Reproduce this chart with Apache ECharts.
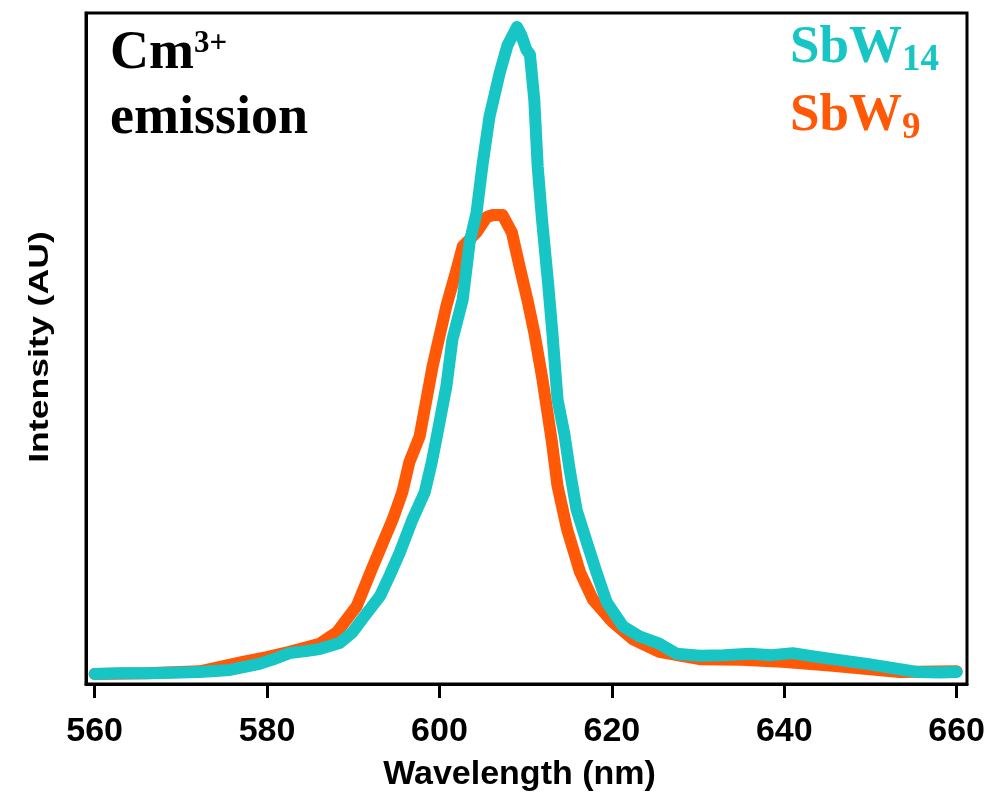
<!DOCTYPE html>
<html>
<head>
<meta charset="utf-8">
<script src="https://cdn.jsdelivr.net/npm/echarts@6/dist/echarts.min.js"></script>
<style>html,body{margin:0;padding:0;background:#fff;}#c{width:992px;height:797px;}</style>
</head>
<body>
<div id="c"></div>
<script>
// SbW14 (cyan) — wavelength (nm) and intensity (AU, 0–100 of plot height)
const sbw14Wl  = [560.0,563.0,566.4,570.0,572.2,575.7,579.1,581.0,582.6,584.5,586.1,588.4,589.9,591.3,593.1,594.2,595.4,596.9,598.3,599.1,599.7,600.8,601.5,602.7,603.5,604.3,605.0,605.8,607.0,607.9,609.0,609.5,610.1,610.5,611.0,611.4,611.9,612.6,613.1,613.7,614.5,615.1,615.9,617.1,618.2,619.4,621.3,623.2,625.5,627.5,630.2,633.0,636.0,638.5,641.0,643.0,645.6,649.6,653.4,655.4,658.0,660.0];
const sbw14Int = [1.5,1.6,1.6,1.7,1.8,2.1,3.0,3.8,4.6,4.9,5.2,6.1,7.7,10.1,13.1,16.1,19.6,24.6,28.6,33.0,36.9,44.3,51.3,57.3,65.8,70.2,77.4,84.5,91.1,95.2,97.9,96.7,94.5,93.8,87.1,77.1,69.2,59.8,52.4,42.4,37.2,32.0,26.0,21.1,16.7,12.2,8.6,7.1,6.0,4.5,4.2,4.3,4.5,4.3,4.6,4.2,3.7,3.0,2.2,1.8,1.7,1.8];
// SbW9 (orange)
const sbw9Wl  = [560.0,566.0,572.2,577.2,580.0,582.6,586.1,588.1,590.4,592.3,594.6,595.7,596.5,597.7,599.2,600.8,602.0,602.7,604.3,605.5,606.2,607.3,608.4,609.3,610.2,611.0,611.9,612.6,613.0,613.7,614.8,616.3,617.8,620.1,622.4,625.5,630.2,635.0,639.8,645.6,653.4,660.0];
const sbw9Int = [1.5,1.6,1.9,3.3,4.0,4.8,6.0,7.7,11.6,17.6,24.6,28.6,33.0,36.9,47.3,56.3,61.8,65.2,67.3,69.6,69.9,69.9,67.3,62.2,57.3,52.4,45.8,39.9,36.5,29.5,23.1,16.7,12.6,9.2,6.7,4.8,3.7,3.6,3.3,2.7,1.8,1.9];
const xTicks = [560,580,600,620,640,660];

const zip = (a,b) => a.map((v,i)=>[v,b[i]]);
const CYAN = '#17c5c5', ORANGE = '#ff5806';
const SANS = '"Liberation Sans", Arial, Helvetica, sans-serif';
const SERIF = '"Liberation Serif", "Times New Roman", serif';

const chart = echarts.init(document.getElementById('c'), null, {renderer:'canvas'});
chart.setOption({
  animation:false,
  backgroundColor:'#fff',
  grid:{left:86,right:25,top:13,bottom:112,show:true,borderColor:'#000',borderWidth:3,backgroundColor:'transparent'},
  xAxis:{
    type:'value',min:559,max:661.2,
    name:'Wavelength (nm)',nameLocation:'middle',nameGap:74,
    nameTextStyle:{fontFamily:SANS,fontWeight:'bold',fontSize:34,color:'#000',padding:[0,14,0,0]},
    axisLine:{show:true,lineStyle:{color:'#000',width:3}},
    axisTick:{show:true,inside:false,length:14,lineStyle:{color:'#000',width:3},customValues:xTicks},
    axisLabel:{show:true,margin:31,fontFamily:SANS,fontWeight:'bold',fontSize:34,color:'#000',customValues:xTicks},
    splitLine:{show:false}
  },
  yAxis:{
    type:'value',min:0,max:100,
    axisLine:{show:true,lineStyle:{color:'#000',width:3}},
    axisTick:{show:false},axisLabel:{show:false},splitLine:{show:false}
  },
  graphic:[
    {type:'text',left:110,top:24,style:{
      text:'{a|Cm}{s|3+}',
      rich:{a:{fontFamily:SERIF,fontWeight:'bold',fontSize:54,fill:'#000',lineHeight:60},
            s:{fontFamily:SERIF,fontWeight:'bold',fontSize:31,fill:'#000',verticalAlign:'top',lineHeight:60,padding:[4,0,0,0]}}}},
    {type:'text',left:110,top:92,style:{text:'emission',fontFamily:SERIF,fontWeight:'bold',fontSize:54,fill:'#000'}},
    {type:'text',left:790,top:22,style:{
      text:'{a|SbW}{s|14}',
      rich:{a:{fontFamily:SERIF,fontWeight:'bold',fontSize:53,fill:CYAN,lineHeight:60},
            s:{fontFamily:SERIF,fontWeight:'bold',fontSize:37,fill:CYAN,verticalAlign:'bottom',lineHeight:60}}}},
    {type:'text',left:790,top:90,style:{
      text:'{a|SbW}{s|9}',
      rich:{a:{fontFamily:SERIF,fontWeight:'bold',fontSize:53,fill:ORANGE,lineHeight:60},
            s:{fontFamily:SERIF,fontWeight:'bold',fontSize:37,fill:ORANGE,verticalAlign:'bottom',lineHeight:60}}}},
    {type:'text',x:54,y:347,rotation:Math.PI/2,scaleX:1.32,scaleY:1,
      style:{text:'Intensity (AU)',fontFamily:SANS,fontWeight:'bold',fontSize:27,fill:'#000',align:'center',verticalAlign:'bottom'}}
  ],
  series:[
    {name:'SbW9',type:'line',data:zip(sbw9Wl,sbw9Int),showSymbol:false,smooth:false,
     lineStyle:{color:ORANGE,width:12,cap:'round',join:'round'},z:2},
    {name:'SbW14',type:'line',data:zip(sbw14Wl,sbw14Int),showSymbol:false,smooth:false,
     lineStyle:{color:CYAN,width:12,cap:'round',join:'round'},z:3}
  ]
});
</script>
</body>
</html>
